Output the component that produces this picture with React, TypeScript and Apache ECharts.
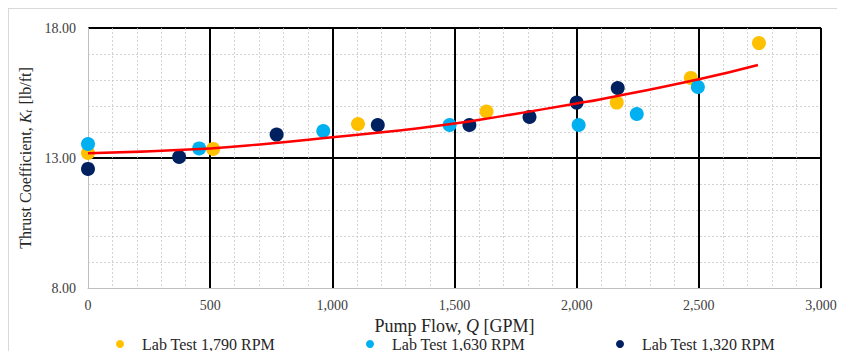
import React, { useEffect, useRef } from "react";
import * as echarts from "echarts";

const xTicks = [0, 500, 1000, 1500, 2000, 2500, 3000];
const yTicks = [8, 13, 18];

const seriesNames = ["Lab Test 1,790 RPM", "Lab Test 1,630 RPM", "Lab Test 1,320 RPM"];
const seriesColors = ["#FFC000", "#00B0F0", "#002060"];

const lab1790: [number, number][] = [
  [0, 13.19], [512, 13.35], [1105, 14.31], [1631, 14.79], [2164, 15.13], [2467, 16.08], [2746, 17.42],
];
const lab1630: [number, number][] = [
  [0, 13.54], [455, 13.37], [963, 14.04], [1480, 14.27], [2008, 14.27], [2246, 14.69], [2496, 15.73],
];
const lab1320: [number, number][] = [
  [0, 12.58], [373, 13.04], [772, 13.9], [1186, 14.27], [1561, 14.27], [1807, 14.58], [2000, 15.13], [2168, 15.69],
];
const trendLine: [number, number][] = [
  [0, 13.18], [500, 13.37], [725, 13.54], [1000, 13.8], [1400, 14.2], [1700, 14.62], [2000, 15.1], [2100, 15.26], [2500, 16.03], [2742, 16.58],
];

const FONT = "'Liberation Serif', 'Times New Roman', serif";

export default function App() {
  const ref = useRef<HTMLDivElement>(null);
  useEffect(() => {
    if (!ref.current) return;
    const chart = echarts.init(ref.current, undefined, { renderer: "svg" });
    const fmtX = (v: number) => v.toLocaleString("en-US");
    const legendLefts = [102, 352, 602];
    chart.setOption({
      animation: false,
      backgroundColor: "#ffffff",
      grid: { left: 79, top: 19, right: 24, bottom: 63, containLabel: false },
      xAxis: {
        type: "value",
        min: xTicks[0],
        max: xTicks[xTicks.length - 1],
        interval: 500,
        name: "Pump Flow, {i|Q} [GPM]",
        nameLocation: "middle",
        nameGap: 27,
        nameTextStyle: {
          fontFamily: FONT, fontSize: 18, color: "#262626",
          rich: { i: { fontFamily: FONT, fontSize: 18, fontStyle: "italic", color: "#262626" } },
        },
        axisLine: { show: true, lineStyle: { color: "#bfbfbf", width: 1 } },
        axisTick: { show: false },
        axisLabel: { formatter: fmtX, fontFamily: FONT, fontSize: 14, color: "#404040", margin: 10 },
        splitLine: { show: true, showMinLine: false, lineStyle: { color: "#000000", width: 2 } },
        minorTick: { show: false, splitNumber: 5 },
        minorSplitLine: { show: true, lineStyle: { color: "#c8c8c8", width: 0.8, type: [2, 2] } },
      },
      yAxis: {
        type: "value",
        min: yTicks[0],
        max: yTicks[yTicks.length - 1],
        interval: 5,
        name: "Thrust Coefficient, {i|K}{sub|t} [lb/ft]",
        nameLocation: "middle",
        nameGap: 49,
        nameRotate: 90,
        nameTextStyle: {
          fontFamily: FONT, fontSize: 16, color: "#262626",
          rich: {
            i: { fontFamily: FONT, fontSize: 16, fontStyle: "italic", color: "#262626" },
            sub: { fontFamily: FONT, fontSize: 11, fontStyle: "italic", color: "#262626", padding: [4, 1, 0, 0] },
          },
        },
        axisLine: { show: true, lineStyle: { color: "#bfbfbf", width: 1 } },
        axisTick: { show: false },
        axisLabel: { formatter: (v: number) => v.toFixed(2), fontFamily: FONT, fontSize: 14, color: "#404040", margin: 12 },
        splitLine: { show: true, showMinLine: false, lineStyle: { color: "#000000", width: 2 } },
        minorTick: { show: false, splitNumber: 5 },
        minorSplitLine: { show: true, lineStyle: { color: "#c8c8c8", width: 0.8, type: [2, 2] } },
      },
      legend: seriesNames.map((n, i) => ({
        data: [n],
        left: legendLefts[i],
        top: 322,
        icon: "circle",
        itemWidth: 34,
        itemHeight: 8,
        itemGap: 0,
        textStyle: { fontFamily: FONT, fontSize: 16, color: "#262626" },
      })),
      series: [
        ...[lab1790, lab1630, lab1320].map((d, i) => ({
          type: "scatter",
          name: seriesNames[i],
          data: d,
          symbol: "circle",
          symbolSize: 14,
          itemStyle: { color: seriesColors[i], opacity: 1 },
          z: 2 + i,
        })),
        {
          type: "line",
          name: "trend",
          data: trendLine,
          smooth: true,
          showSymbol: false,
          symbol: "none",
          lineStyle: { color: "#FF0000", width: 2.5 },
          z: 10,
        },
      ],
    });
    return () => chart.dispose();
  }, []);
  return (
    <div
      ref={ref}
      style={{
        width: 837,
        height: 343,
        boxSizing: "border-box",
        borderTop: "1px solid #d9d9d9",
        borderLeft: "1px solid #d9d9d9",
      }}
    />
  );
}
